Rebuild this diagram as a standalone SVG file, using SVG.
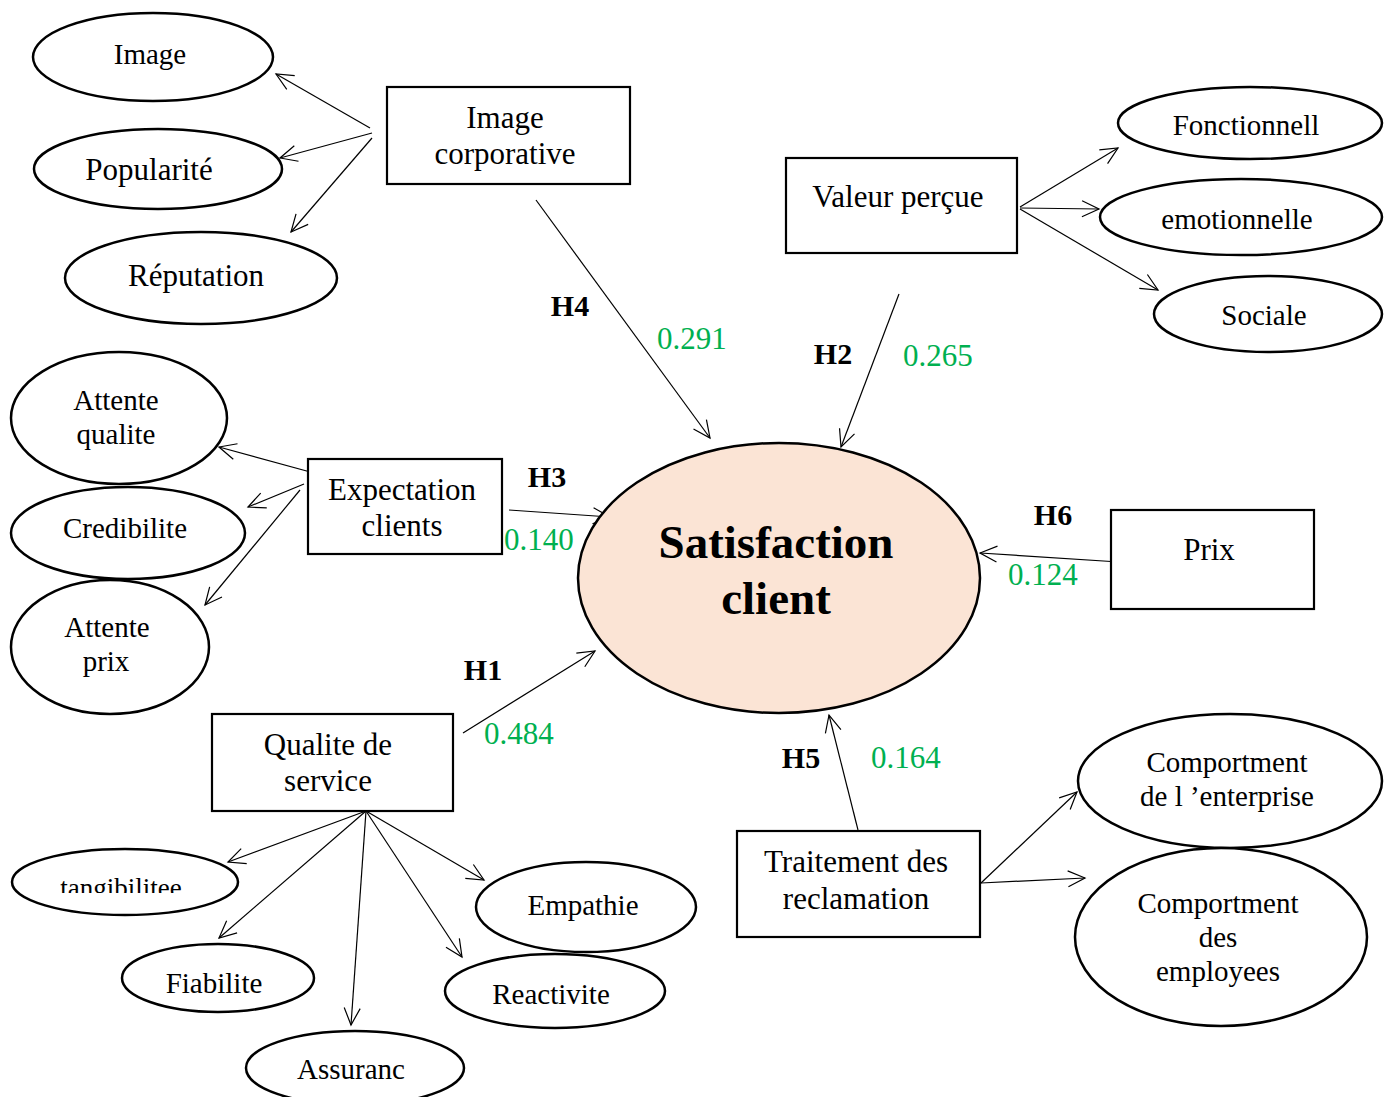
<svg xmlns="http://www.w3.org/2000/svg" width="1394" height="1097" viewBox="0 0 1394 1097">
<style>
text{font-family:"Liberation Serif","Times New Roman",serif;fill:#000;text-anchor:middle}
.e{fill:#fff;stroke:#000;stroke-width:2.5}
.b{fill:#fff;stroke:#000;stroke-width:2.2}
.c{stroke:#000;stroke-width:1.2;fill:none;marker-end:url(#arr)}
.s29{font-size:29px}
.s31{font-size:31px}
.h{font-size:30px;font-weight:bold}
.g{font-size:31px;fill:#00b050;text-anchor:start}
</style>
<defs>
<marker id="arr" markerUnits="userSpaceOnUse" markerWidth="24" markerHeight="24" refX="18" refY="10" orient="auto">
<path d="M1,2 L18,10 L1,18" fill="none" stroke="#000" stroke-width="1.2"/>
</marker>
<clipPath id="clipTang"><rect x="0" y="860" width="260" height="33"/></clipPath>
</defs>
<rect width="1394" height="1097" fill="#fff"/>

<g id="connectors">
<line class="c" x1="370" y1="128" x2="276" y2="74"/>
<line class="c" x1="372" y1="133" x2="280" y2="158"/>
<line class="c" x1="372" y1="138" x2="291" y2="232"/>
<line class="c" x1="536" y1="200" x2="710" y2="438"/>
<line class="c" x1="1020" y1="207" x2="1118" y2="148"/>
<line class="c" x1="1020" y1="208" x2="1099" y2="209"/>
<line class="c" x1="1020" y1="209" x2="1158" y2="290"/>
<line class="c" x1="899" y1="294" x2="841" y2="447"/>
<line class="c" x1="314" y1="473" x2="219" y2="447"/>
<line class="c" x1="304" y1="484" x2="248" y2="507"/>
<line class="c" x1="300" y1="490" x2="205" y2="605"/>
<line class="c" x1="509" y1="510" x2="610" y2="517"/>
<line class="c" x1="463" y1="733" x2="595" y2="651"/>
<line class="c" x1="366" y1="811" x2="228" y2="862"/>
<line class="c" x1="366" y1="811" x2="219" y2="938"/>
<line class="c" x1="366" y1="811" x2="351" y2="1025"/>
<line class="c" x1="366" y1="811" x2="484" y2="880"/>
<line class="c" x1="366" y1="811" x2="462" y2="957"/>
<line class="c" x1="1119" y1="562" x2="980" y2="553"/>
<line class="c" x1="858" y1="830" x2="829" y2="715"/>
<line class="c" x1="981" y1="883" x2="1077" y2="792"/>
<line class="c" x1="981" y1="883" x2="1085" y2="878"/>
</g>

<g id="satisfaction">
<ellipse cx="779" cy="578" rx="201" ry="135" fill="#fbe4d5" stroke="#000" stroke-width="2.5"/>
<text x="776" y="558" style="font-size:47px;font-weight:bold">Satisfaction</text>
<text x="776" y="614" style="font-size:47px;font-weight:bold">client</text>
</g>

<g id="image-corporative">
<rect class="b" x="387" y="87" width="243" height="97"/>
<text class="s31" x="505" y="128">Image</text>
<text class="s31" x="505" y="164">corporative</text>
</g>
<g id="image"><ellipse class="e" cx="153" cy="57" rx="120" ry="44"/><text class="s29" x="150" y="64">Image</text></g>
<g id="popularite"><ellipse class="e" cx="158" cy="169" rx="124" ry="40"/><text class="s31" x="149" y="180">Popularité</text></g>
<g id="reputation"><ellipse class="e" cx="201" cy="278" rx="136" ry="46"/><text class="s31" x="196" y="286">Réputation</text></g>

<g id="valeur-percue">
<rect class="b" x="786" y="158" width="231" height="95"/>
<text class="s31" x="898" y="207">Valeur perçue</text>
</g>
<g id="fonctionnell"><ellipse class="e" cx="1250" cy="123" rx="132" ry="36"/><text class="s29" x="1246" y="135">Fonctionnell</text></g>
<g id="emotionnelle"><ellipse class="e" cx="1241" cy="217" rx="141" ry="38"/><text class="s29" x="1237" y="229">emotionnelle</text></g>
<g id="sociale"><ellipse class="e" cx="1268" cy="314" rx="114" ry="38"/><text class="s29" x="1264" y="325">Sociale</text></g>

<g id="expectation-clients">
<rect class="b" x="308" y="459" width="194" height="95"/>
<text class="s31" x="402" y="500">Expectation</text>
<text class="s31" x="402" y="536">clients</text>
</g>
<g id="attente-qualite"><ellipse class="e" cx="119" cy="418" rx="108" ry="66"/><text class="s29" x="116" y="410">Attente</text><text class="s29" x="116" y="444">qualite</text></g>
<g id="credibilite"><ellipse class="e" cx="128" cy="533" rx="117" ry="46"/><text class="s29" x="125" y="538">Credibilite</text></g>
<g id="attente-prix"><ellipse class="e" cx="110" cy="647" rx="99" ry="67"/><text class="s29" x="107" y="637">Attente</text><text class="s29" x="106" y="671">prix</text></g>

<g id="prix">
<rect class="b" x="1111" y="510" width="203" height="99"/>
<text class="s31" x="1209" y="560">Prix</text>
</g>

<g id="qualite-service">
<rect class="b" x="212" y="714" width="241" height="97"/>
<text class="s31" x="328" y="755">Qualite de</text>
<text class="s31" x="328" y="791">service</text>
</g>
<g id="tangibilitee"><ellipse class="e" cx="125" cy="882" rx="113" ry="33"/><text class="s29" x="121" y="897" clip-path="url(#clipTang)" style="font-size:27px">tangibilitee</text></g>
<g id="fiabilite"><ellipse class="e" cx="218" cy="978" rx="96" ry="34"/><text class="s29" x="214" y="993">Fiabilite</text></g>
<g id="assuranc"><ellipse class="e" cx="355" cy="1068" rx="109" ry="37"/><text class="s29" x="351" y="1079">Assuranc</text></g>
<g id="empathie"><ellipse class="e" cx="586" cy="907" rx="110" ry="45"/><text class="s29" x="583" y="915">Empathie</text></g>
<g id="reactivite"><ellipse class="e" cx="555" cy="991" rx="110" ry="37"/><text class="s29" x="551" y="1004">Reactivite</text></g>

<g id="traitement-reclamation">
<rect class="b" x="737" y="831" width="243" height="106"/>
<text class="s31" x="856" y="872">Traitement des</text>
<text class="s31" x="856" y="909">reclamation</text>
</g>
<g id="comportment-enterprise"><ellipse class="e" cx="1230" cy="781" rx="152" ry="67"/><text class="s29" x="1227" y="772">Comportment</text><text class="s29" x="1227" y="806">de l ’enterprise</text></g>
<g id="comportment-employees"><ellipse class="e" cx="1221" cy="937" rx="146" ry="89"/><text class="s29" x="1218" y="913">Comportment</text><text class="s29" x="1218" y="947">des</text><text class="s29" x="1218" y="981">employees</text></g>

<g id="labels">
<text class="h" x="570" y="316">H4</text>
<text class="g" x="657" y="349">0.291</text>
<text class="h" x="833" y="364">H2</text>
<text class="g" x="903" y="366">0.265</text>
<text class="h" x="547" y="487">H3</text>
<text class="g" x="504" y="550">0.140</text>
<text class="h" x="1053" y="525">H6</text>
<text class="g" x="1008" y="585">0.124</text>
<text class="h" x="483" y="680">H1</text>
<text class="g" x="484" y="744">0.484</text>
<text class="h" x="801" y="768">H5</text>
<text class="g" x="871" y="768">0.164</text>
</g>
</svg>
